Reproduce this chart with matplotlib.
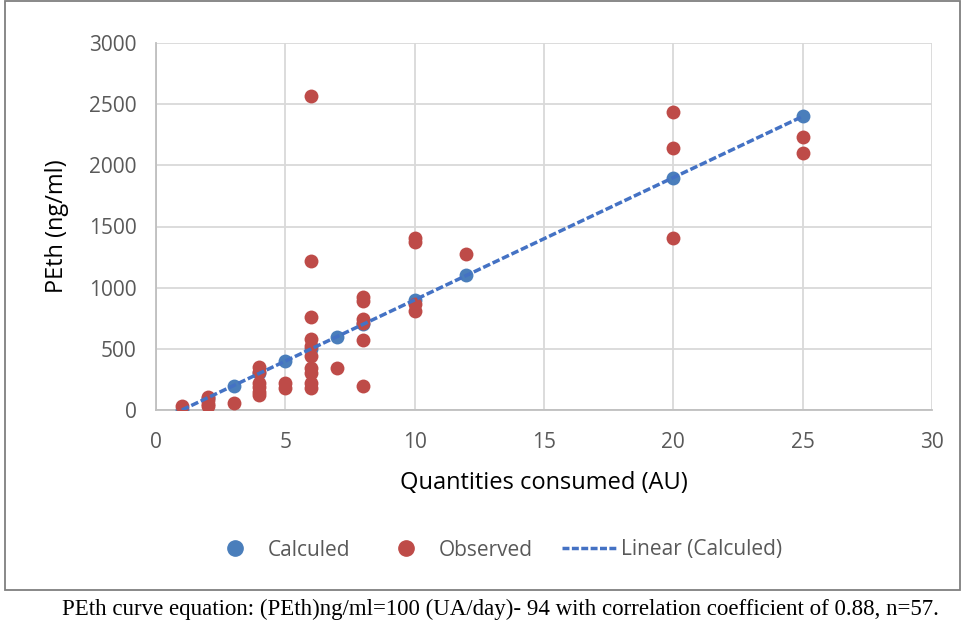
import matplotlib.pyplot as plt
from matplotlib.lines import Line2D
from matplotlib.patches import Rectangle

# calculated curve points (PEth = 100*AU - 100)
calc_x = [1, 2, 3, 4, 5, 6, 7, 8, 10, 12, 20, 25]
calc_y = [0, 100, 200, 300, 400, 500, 600, 700, 900, 1100, 1900, 2400]

obs_x = [1,
         2, 2, 2, 2,
         3,
         4, 4, 4, 4, 4, 4,
         5, 5,
         6, 6, 6, 6, 6, 6, 6, 6, 6, 6,
         7,
         8, 8, 8, 8, 8, 8,
         10, 10, 10, 10,
         12,
         20, 20, 20,
         25, 25]
obs_y = [30,
         110, 80, 50, 30,
         60,
         350, 310, 220, 190, 150, 120,
         220, 180,
         2570, 1220, 760, 580, 520, 440, 340, 300, 220, 180,
         345,
         920, 890, 740, 710, 575, 195,
         1410, 1370, 870, 810,
         1275,
         2435, 2140, 1410,
         2235, 2100]

blue = '#4a7ebb'
red = '#be4b48'
grey = '#595959'

plt.rcParams['font.family'] = ['Open Sans', 'DejaVu Sans']

fig = plt.figure(figsize=(9.61, 6.20), dpi=100)
ax = fig.add_axes([156 / 961, 1 - 410 / 620, (932 - 156) / 961, (410 - 43) / 620])

# trendline through calculated points
n = len(calc_x)
mx = sum(calc_x) / n
my = sum(calc_y) / n
slope = sum((a - mx) * (b - my) for a, b in zip(calc_x, calc_y)) / sum((a - mx) ** 2 for a in calc_x)
icpt = my - slope * mx
tx = [min(calc_x), max(calc_x)]
ty = [slope * v + icpt for v in tx]

ax.scatter(calc_x, calc_y, s=100, color=blue, zorder=3, linewidths=0)
ax.scatter(obs_x, obs_y, s=100, color=red, zorder=4, linewidths=0)
ax.plot(tx, ty, color='#4472c4', lw=2.5, ls=(0, (2.2, 0.8)), zorder=5)

ax.set_xlim(0, 30)
ax.set_ylim(0, 3000)
ax.set_xticks(range(0, 31, 5))
ax.set_yticks(range(0, 3001, 500))
ax.grid(True, color='#d9d9d9', lw=1.3)
ax.set_axisbelow(True)
for s in ['top', 'right']:
    ax.spines[s].set_visible(False)
for s in ['left', 'bottom']:
    ax.spines[s].set_color('#bfbfbf')
    ax.spines[s].set_linewidth(1.3)
ax.tick_params(length=0, labelsize=15, labelcolor=grey)
ax.tick_params(axis='y', pad=14)
ax.tick_params(axis='x', pad=16)

ax.set_xlabel('Quantities consumed (AU)', fontsize=17, color='black', labelpad=13)
ax.set_ylabel('PEth (ng/ml)', fontsize=17, color='black', labelpad=14)

handles = [
    Line2D([], [], marker='o', ls='', color=blue, markersize=11),
    Line2D([], [], marker='o', ls='', color=red, markersize=11),
    Line2D([], [], color='#4472c4', lw=2.5, ls=(0, (2.0, 0.7))),
]
fig.legend(handles, ['Calculed', 'Observed', 'Linear (Calculed)'],
           loc='center', bbox_to_anchor=(495 / 961, 1 - 550 / 620), ncol=3,
           frameon=False, fontsize=15, labelcolor=grey, handlelength=2.6,
           columnspacing=1.4, handletextpad=0.25)

# chart area border
fig.patches.append(Rectangle((5 / 961, 1 - 590 / 620), 955 / 961, 589 / 620,
                             transform=fig.transFigure, fill=False,
                             edgecolor='#7f7f7f', lw=1.3))

fig.text(500 / 961, 1 - 609 / 620,
         'PEth curve equation: (PEth)ng/ml=100 (UA/day)- 94 with correlation coefficient of 0.88, n=57.',
         ha='center', va='center', fontsize=16.5, family=['Liberation Serif', 'DejaVu Serif'])

fig.savefig('out.png', dpi=100)
